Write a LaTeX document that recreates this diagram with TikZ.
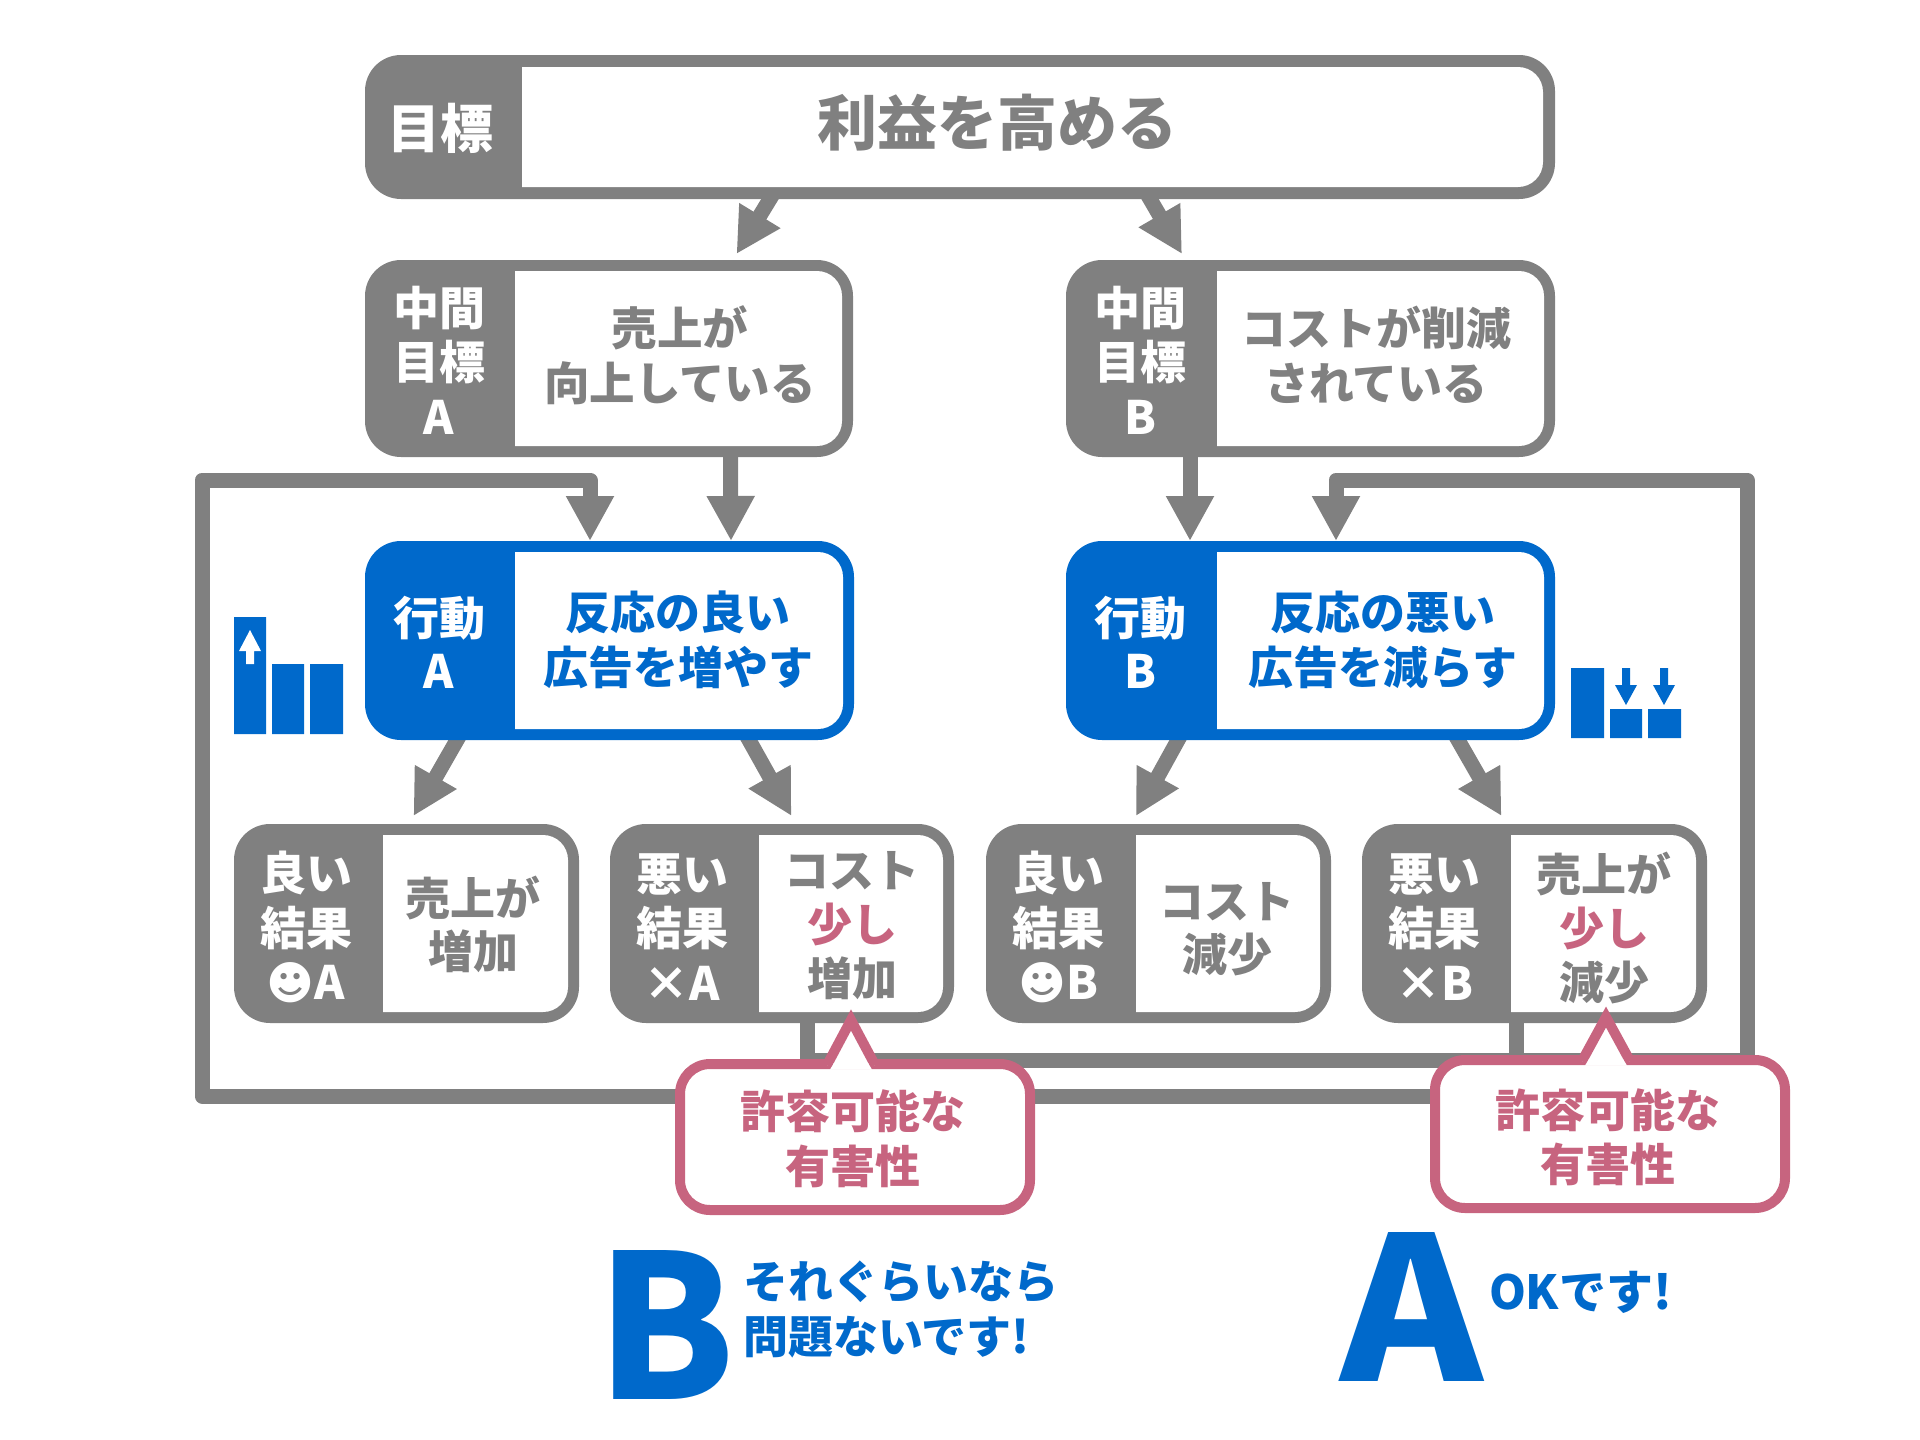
\documentclass[tikz,border=0pt]{standalone}
\usepackage{fontspec}
\usetikzlibrary{arrows.meta,backgrounds}
\setmainfont{Noto Sans CJK JP Black}
\newfontfamily\dejavu{DejaVu Sans}
\definecolor{cgray}{HTML}{808080}
\definecolor{cblue}{HTML}{0069CB}
\definecolor{cpink}{HTML}{C7647F}
\newcommand{\fs}[2]{\fontsize{#1}{#2}\selectfont}
\newcommand{\tagbox}[8]{% name x1 y1 x2 y2 split colour stroke
  \node[panel,fill=#7,minimum width={(#4-#2)*1pt},minimum height={(#5-#3)*1pt}] (#1) at ({(#2+#4)/2},{(#3+#5)/2}) {};
  \fill[white] (#6,{#3+#8}) [rounded corners=25pt] -- ({#4-#8},{#3+#8}) -- ({#4-#8},{#5-#8}) [sharp corners] -- (#6,{#5-#8}) -- cycle;
}
\newcommand{\callout}[6]{% x1 y1 x2 y2 apexx apexy
  \draw[calloutline,rounded corners=30pt] (#1,#2) rectangle (#3,#4);
  \draw[calloutline] ({#5-24},{#2+1}) -- (#5,#6) -- ({#5+24},{#2+1});
  \fill[white] ({#5-17},{#2-1}) -- ({#5+17},{#2-1}) -- ({#5+21},{#2+5.5}) -- ({#5-21},{#2+5.5}) -- cycle;
}
\tikzset{
  panel/.style={rounded corners=36pt,inner sep=0pt,outer sep=0pt,draw=none},
  tl/.style={inner sep=0pt,outer sep=0pt,align=center,text=#1},
  conn/.style={draw=cgray,line width=15pt,line join=round,shorten <=-5pt,-{Triangle[length=45pt,width=45pt]}},
  calloutline/.style={draw=cpink,fill=white,line width=10pt,line join=miter,miter limit=10},
}
\begin{document}
\begin{tikzpicture}[x=1pt,y=-1pt]
\useasboundingbox (0,0) rectangle (1920,1440);
% boxes
\tagbox{top}{365}{55}{1555}{199}{522}{cgray}{12}
\tagbox{midA}{365}{260}{853}{457}{515}{cgray}{11}
\tagbox{midB}{1066}{260}{1555}{457}{1217}{cgray}{11}
\tagbox{actA}{365}{541}{854}{740}{515}{cblue}{11}
\tagbox{actB}{1066}{541}{1555}{740}{1217}{cblue}{11}
\tagbox{resA}{234}{824}{579}{1023}{383}{cgray}{11}
\tagbox{badA}{610}{824}{954}{1023}{759}{cgray}{11}
\tagbox{resB}{986}{824}{1331}{1023}{1136}{cgray}{11}
\tagbox{badB}{1362}{824}{1707}{1023}{1511}{cgray}{11}
% box texts
\node[tl=white,font=\fs{53}{60}] (t0) at (440,128) {目標};
\node[tl=cgray,font=\fs{60}{70}] (t1) at (997,123) {利益を高める};
\node[tl=white,font=\fs{46}{54.5}] (t2) at (439,360) {中間\\目標\\A};
\node[tl=cgray,font=\fs{45.5}{55}] (t3) at (680,355) {売上が\\向上している};
\node[tl=white,font=\fs{46}{54.5}] (t4) at (1140,360) {中間\\目標\\B};
\node[tl=cgray,font=\fs{45}{55}] (t5) at (1376,355) {コストが削減\\されている};
\node[tl=white,font=\fs{46}{53}] (t6) at (439,642.5) {行動\\A};
\node[tl=cblue,font=\fs{45}{55}] (t7) at (678,640) {反応の良い\\広告を増やす};
\node[tl=white,font=\fs{46}{53}] (t8) at (1140,642.5) {行動\\B};
\node[tl=cblue,font=\fs{45}{55}] (t9) at (1383,640) {反応の悪い\\広告を減らす};
\node[tl=white,font=\fs{46}{54.5}] (t10) at (306,927) {良い\\結果\\{\dejavu ☻}A};
\node[tl=cgray,font=\fs{45}{53}] (t11) at (473,924) {売上が\\増加};
\node[tl=white,font=\fs{46}{54.5}] (t12) at (682,927) {悪い\\結果\\×A};
\node[tl=cgray,font=\fs{45}{54}] (t13) at (852,926) {コスト\\\textcolor{cpink}{少し}\\増加};
\node[tl=white,font=\fs{46}{54.5}] (t14) at (1058,927) {良い\\結果\\{\dejavu ☻}B};
\node[tl=cgray,font=\fs{45}{53}] (t15) at (1227,929) {コスト\\減少};
\node[tl=white,font=\fs{46}{54.5}] (t16) at (1434,927) {悪い\\結果\\×B};
\node[tl=cgray,font=\fs{45}{54}] (t17) at (1604,928) {売上が\\\textcolor{cpink}{少し}\\減少};
% connectors
\begin{scope}[on background layer]
\draw[conn] ([xshift=-190pt]top.south) -- ([xshift=127.5pt,yshift=6pt]midA.north);
\draw[conn] ([xshift=190pt]top.south) -- ([xshift=-128.5pt,yshift=6pt]midB.north);
\draw[conn] ([xshift=121.5pt]midA.south) -- ([xshift=121.5pt]actA.north);
\draw[conn] ([xshift=-120.5pt]midB.south) -- ([xshift=-120.5pt]actB.north);
\draw[conn] ([xshift=-152.5pt]actA.south) -- ([xshift=7pt,yshift=8pt]resA.north);
\draw[conn] ([xshift=139.5pt]actA.south) -- ([xshift=9.5pt,yshift=8pt]badA.north);
\draw[conn] ([xshift=-132.5pt]actB.south) -- ([xshift=-22.5pt,yshift=8pt]resB.north);
\draw[conn] ([xshift=147.5pt]actB.south) -- ([xshift=-33pt,yshift=8pt]badB.north);
\draw[conn] ([xshift=-18.5pt]badB.south) |- (202,1096) |- (590,480) -- ([xshift=-19.5pt]actA.north);
\draw[conn] ([xshift=25pt]badA.south) |- (1747,1060) |- (1336,480) -- ([xshift=25.5pt]actB.north);
\end{scope}
% callouts
\callout{680}{1064}{1030}{1210}{851}{1020}
\callout{1435}{1060}{1785}{1208}{1606}{1017}
\node[tl=cpink,font=\fs{45}{55}] (c1) at (853,1139) {許容可能な\\有害性};
\node[tl=cpink,font=\fs{45}{54}] (c2) at (1608,1137) {許容可能な\\有害性};
% bar icons
\fill[cblue] (234,617) rectangle (266,734) (272,664) rectangle (304,734) (310,664) rectangle (343,734);
\fill[white] (250,630) -- (261,651) -- (254,651) -- (254,664) -- (246,664) -- (246,651) -- (239,651) -- cycle;
\fill[cblue] (1571,668) rectangle (1604,738) (1610,709) rectangle (1642,738) (1648,709) rectangle (1681,738);
\fill[cblue] (1626,705) -- (1615,685) -- (1622,685) -- (1622,668) -- (1630,668) -- (1630,685) -- (1637,685) -- cycle;
\fill[cblue] (1664,705) -- (1653,685) -- (1660,685) -- (1660,668) -- (1668,668) -- (1668,685) -- (1675,685) -- cycle;
% bottom grades
\node[tl=cblue,font=\fs{200}{200}] (gb) at (666,1325) {B};
\node[tl=cblue,font=\fs{200}{200},xscale=1.08,transform shape] (ga) at (1412,1307) {A};
\node[tl=cblue,anchor=west,align=left,font=\fs{45}{55}] (gbt) at (743,1309) {それぐらいなら\\問題ないです!};
\node[tl=cblue,anchor=west,align=left,font=\fs{47}{55}] (gat) at (1489,1292) {OKです!};
\end{tikzpicture}
\end{document}
